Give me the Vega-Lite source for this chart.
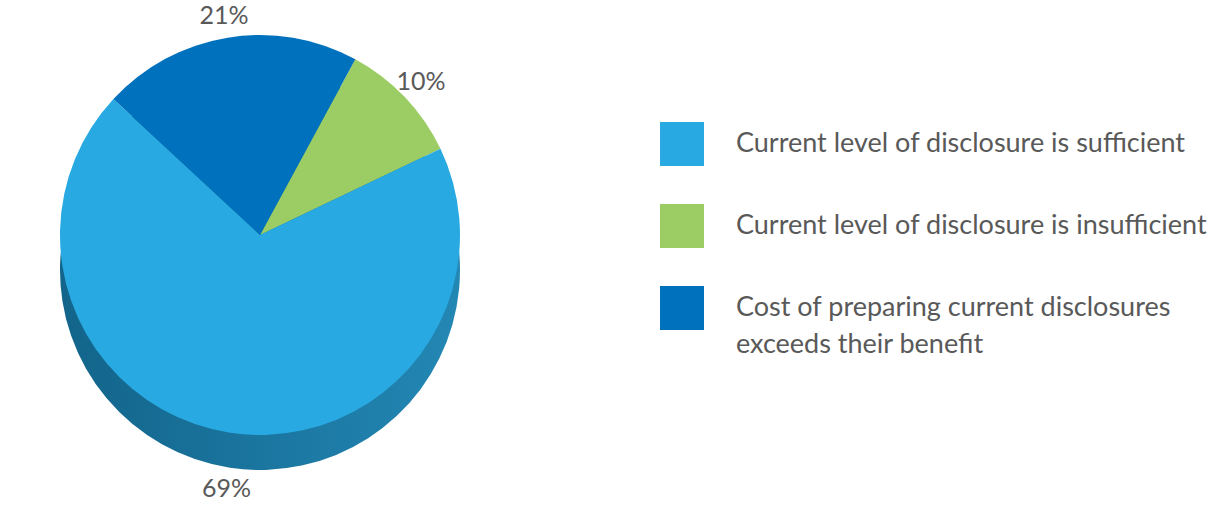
{
  "$schema": "https://vega.github.io/schema/vega-lite/v6.json",
  "width": 520,
  "height": 470,
  "padding": 0,
  "background": "white",
  "data": {
    "values": [
      {"category": "Current level of disclosure is insufficient", "share": 0.10, "order": 1},
      {"category": "Current level of disclosure is sufficient", "share": 0.69, "order": 2},
      {"category": "Cost of preparing current disclosures exceeds their benefit", "share": 0.21, "order": 3}
    ]
  },
  "config": {
    "view": {"stroke": null},
    "font": "Lato",
    "style": {"guide-label": {"lineHeight": 37}}
  },
  "layer": [
    {
      "mark": {
        "type": "arc",
        "outerRadius": 200,
        "yOffset": 35,
        "color": {
          "gradient": "linear",
          "x1": 0, "y1": 0, "x2": 1, "y2": 0,
          "stops": [
            {"offset": 0, "color": "#12648a"},
            {"offset": 1, "color": "#2387b4"}
          ]
        }
      },
      "encoding": {
        "theta": {"field": "share", "type": "quantitative", "stack": true, "scale": {"range": [0.497, 6.780]}},
        "order": {"field": "order", "type": "quantitative"}
      }
    },
    {
      "mark": {"type": "arc", "outerRadius": 200},
      "encoding": {
        "theta": {"field": "share", "type": "quantitative", "stack": true},
        "order": {"field": "order", "type": "quantitative"},
        "color": {
          "field": "category",
          "type": "nominal",
          "scale": {
            "domain": [
              "Current level of disclosure is sufficient",
              "Current level of disclosure is insufficient",
              "Cost of preparing current disclosures exceeds their benefit"
            ],
            "range": ["#29a9e1", "#9bcd64", "#0071bc"]
          },
          "legend": {
            "title": null,
            "orient": "none",
            "legendX": 660,
            "legendY": 122,
            "padding": 0,
            "symbolType": "square",
            "symbolSize": 1936,
            "symbolStrokeWidth": 0,
            "symbolOpacity": 1,
            "labelFont": "Lato",
            "labelFontSize": 27,
            "labelColor": "#595959",
            "labelOffset": 32,
            "labelLimit": 700,
            "rowPadding": 38,
            "labelExpr": "datum.label == 'Cost of preparing current disclosures exceeds their benefit' ? ['Cost of preparing current disclosures', 'exceeds their benefit'] : datum.label"
          }
        }
      }
    },
    {
      "mark": {
        "type": "text",
        "radius": 222,
        "fontSize": 25,
        "font": "Lato",
        "color": "#595959",
        "baseline": "middle",
        "yOffset": {"expr": "datum.share > 0.5 ? 35 : 0"}
      },
      "encoding": {
        "theta": {"field": "share", "type": "quantitative", "stack": true},
        "order": {"field": "order", "type": "quantitative"},
        "text": {"field": "share", "type": "quantitative", "format": ".0%"}
      }
    }
  ]
}
